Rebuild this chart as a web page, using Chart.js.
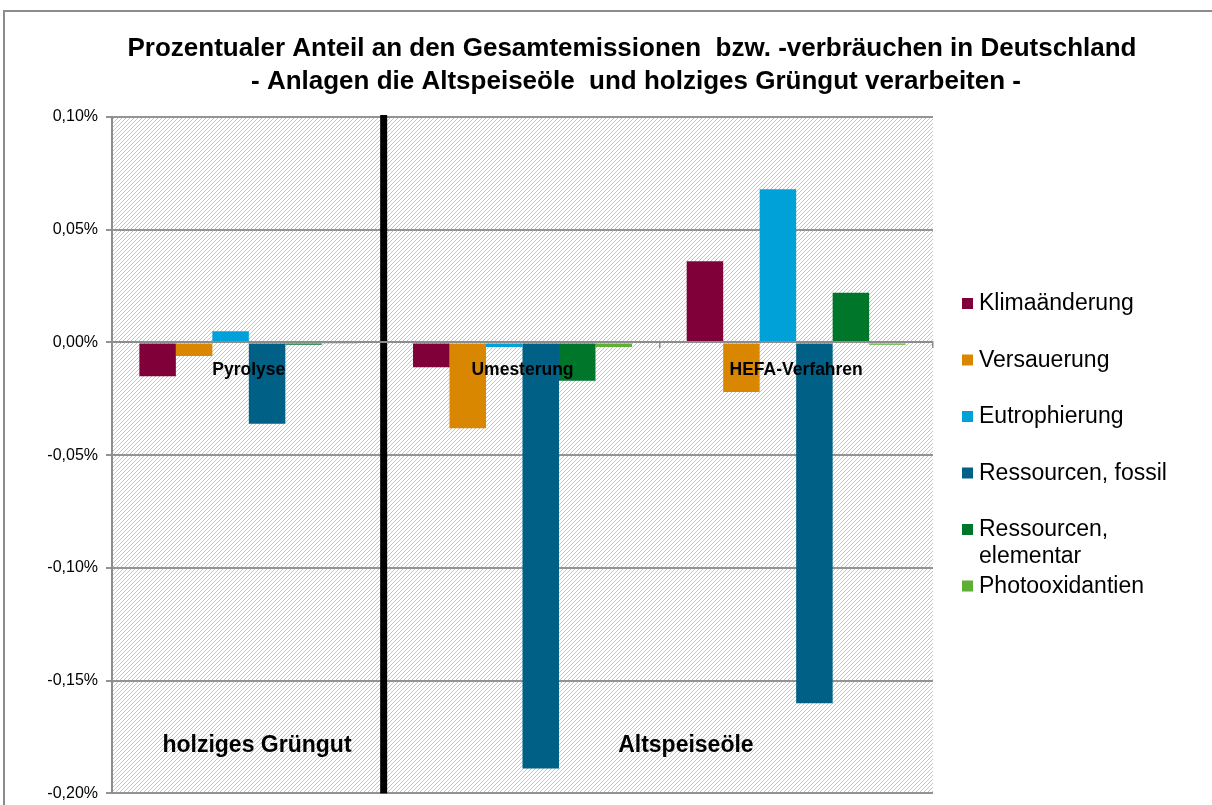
<!DOCTYPE html>
<html lang="de">
<head>
<meta charset="utf-8">
<title>Prozentualer Anteil an den Gesamtemissionen</title>
<script src="https://cdn.jsdelivr.net/npm/chart.js@4"></script>
<style>
  html, body { margin: 0; padding: 0; background: #fff; overflow: hidden; width: 1212px; height: 805px; }
  .frame { position: absolute; left: 3px; top: 10px; width: 1400px; height: 1000px; border-left: 2px solid #8c8c8c; border-top: 2px solid #8c8c8c; }
  .wrap { position: absolute; left: 0; top: 0; width: 1212px; height: 811px; }
</style>
</head>
<body>
<div class="frame"></div>
<div class="wrap"><canvas id="chart"></canvas></div>
<script>
const processes = ["Pyrolyse", "Umesterung", "HEFA-Verfahren"]
const impactNames = ["Klimaänderung", "Versauerung", "Eutrophierung", "Ressourcen, fossil", "Ressourcen, elementar", "Photooxidantien"]
const legendLines = [["Klimaänderung"], ["Versauerung"], ["Eutrophierung"], ["Ressourcen, fossil"], ["Ressourcen,", "elementar"], ["Photooxidantien"]]
const impactColors = ["#80003a", "#d98700", "#00a0d8", "#006086", "#00762b", "#5db034"]

// share of German total, in percent
const klima = [-0.015, -0.011, 0.036]
const versauerung = [-0.006, -0.038, -0.022]
const eutrophierung = [0.005, -0.002, 0.068]
const fossil = [-0.036, -0.189, -0.160]
const elementar = [-0.001, -0.017, 0.022]
const photooxidantien = [-0.0003, -0.002, -0.001]

const yTicks = [-0.20, -0.15, -0.10, -0.05, 0, 0.05, 0.10]
const feedstocks = ["holziges Grüngut", "Altspeiseöle"]
const titleLines = ["Prozentualer Anteil an den Gesamtemissionen  bzw. -verbräuchen in Deutschland", "- Anlagen die Altspeiseöle  und holziges Grüngut verarbeiten -"]

const seriesValues = [klima, versauerung, eutrophierung, fossil, elementar, photooxidantien]
const FONT = "'Liberation Sans', Arial, sans-serif"

function hatchPattern(ctx) {
    const c = document.createElement('canvas')
    c.width = 4
    c.height = 4
    const g = c.getContext('2d')
    g.fillStyle = '#ffffff'
    g.fillRect(0, 0, 4, 4)
    g.fillStyle = '#c6c6c6'
    for (let i = 0; i < 4; i++) g.fillRect(3 - i, i, 1, 1)
    return ctx.createPattern(c, 'repeat')
}

const plotBackground = {
    id: 'plotBackground',
    beforeDraw(chart) {
        const {ctx, chartArea: a} = chart
        ctx.save()
        ctx.fillStyle = hatchPattern(ctx)
        ctx.fillRect(a.left, a.top, a.right - a.left, a.bottom - a.top)
        ctx.restore()
    }
}

// thick separator between the two feedstock groups
const separator = {
    id: 'separator',
    afterDatasetsDraw(chart) {
        const {ctx, chartArea: a, scales: {x}} = chart
        const xPos = (x.getPixelForValue(0) + x.getPixelForValue(1)) / 2 - 2
        ctx.save()
        ctx.fillStyle = '#000'
        ctx.fillRect(xPos - 3.5, a.top - 2, 7, a.bottom - a.top + 2)
        ctx.restore()
    }
}

const annotations = {
    id: 'annotations',
    afterDraw(chart) {
        const {ctx, chartArea: a} = chart
        const w = a.right - a.left
        ctx.save()
        ctx.fillStyle = '#000'
        ctx.textAlign = 'center'
        ctx.textBaseline = 'middle'

        // two-line heading, centred on the whole page
        ctx.font = `bold 26px ${FONT}`
        ctx.fillText(titleLines[0], 632, 49)
        ctx.fillText(titleLines[1], 636, 82)

        ctx.font = `bold 23px ${FONT}`
        ctx.fillText(feedstocks[0], a.left + w * 0.1766, a.bottom - 48)
        ctx.fillText(feedstocks[1], a.left + w * 0.699, a.bottom - 48)

        // legend, one entry per impact category
        ctx.textAlign = 'left'
        ctx.font = `23px ${FONT}`
        legendLines.forEach((lines, i) => {
            const y = a.top + 187 + i * 56.5
            ctx.fillStyle = impactColors[i]
            ctx.fillRect(a.right + 29, y - 6, 11, 11)
            ctx.fillStyle = '#000'
            lines.forEach((line, j) => ctx.fillText(line, a.right + 46, y + j * 26.5))
        })
        ctx.restore()
    }
}

new Chart(document.getElementById('chart'), {
    type: 'bar',
    data: {
        labels: processes,
        datasets: impactNames.map((name, i) => ({
            label: name,
            data: seriesValues[i],
            backgroundColor: impactColors[i],
            borderWidth: 0,
            categoryPercentage: 0.8,
            barPercentage: 1
        }))
    },
    options: {
        responsive: true,
        maintainAspectRatio: false,
        animation: false,
        layout: { padding: { left: 0, right: 279, top: 117, bottom: 6 } },
        plugins: {
            legend: { display: false },
            tooltip: { enabled: false },
            title: { display: false }
        },
        scales: {
            x: {
                position: { y: 0 },
                afterFit: (scale) => { scale.height = 0 },
                grid: { drawOnChartArea: false, tickLength: 5, color: '#8c8c8c', lineWidth: 1.5 },
                border: { color: '#8c8c8c', width: 2, z: 1 },
                ticks: { z: 2, color: '#000', padding: 12, font: { family: FONT, size: 17.5, weight: 'bold' }, maxRotation: 0 }
            },
            y: {
                min: yTicks[0],
                max: yTicks[yTicks.length - 1],
                afterFit: (scale) => { scale.width = 112 },
                afterBuildTicks: (scale) => { scale.ticks = yTicks.map(v => ({value: v})) },
                grid: { color: '#939393', lineWidth: 2, tickLength: 6 },
                border: { color: '#8c8c8c', width: 2 },
                ticks: {
                    color: '#000',
                    padding: 8,
                    font: { family: FONT, size: 16 },
                    callback: (v) => v.toFixed(2).replace('.', ',') + '%'
                }
            }
        }
    },
    plugins: [plotBackground, separator, annotations]
})
</script>
</body>
</html>
